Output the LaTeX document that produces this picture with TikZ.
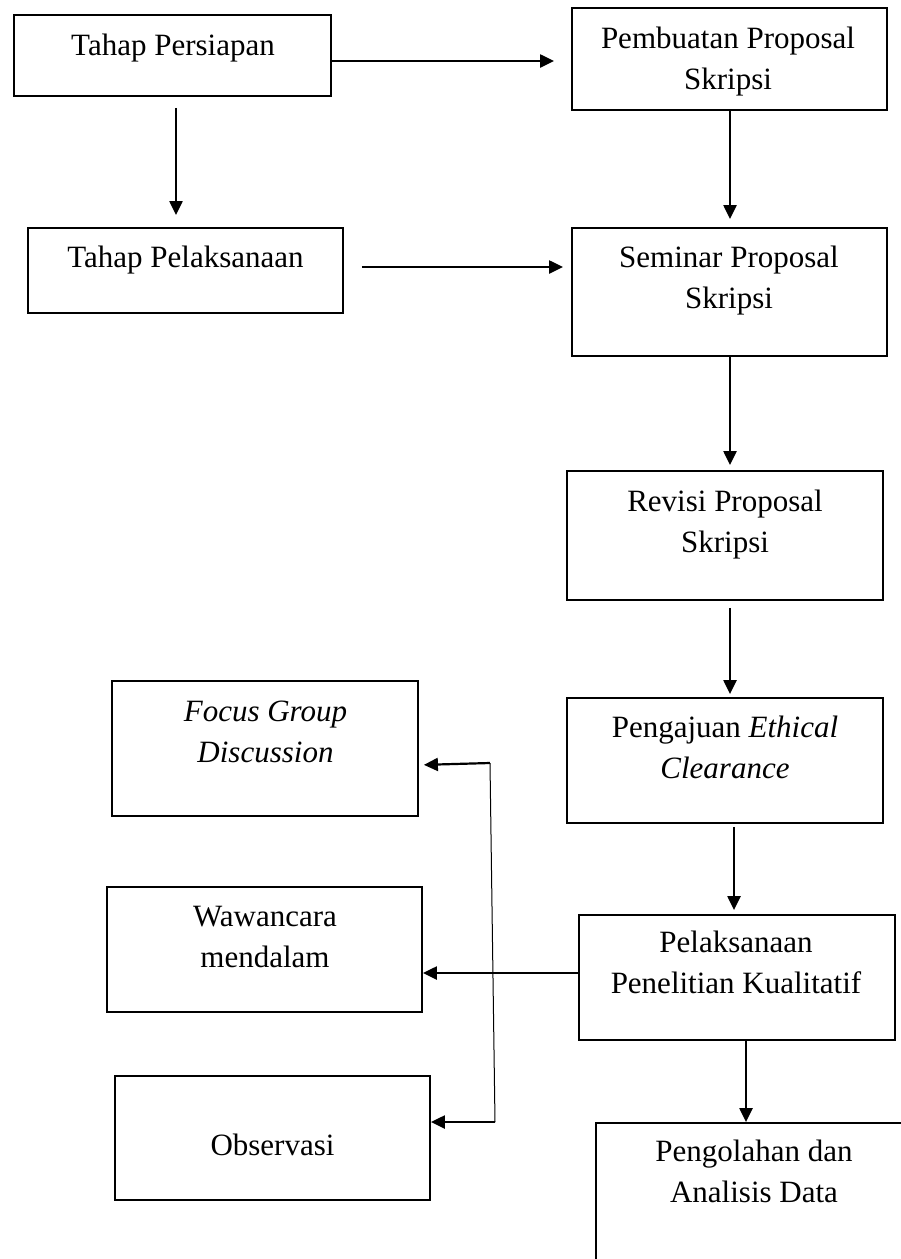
\documentclass[tikz,border=0pt]{standalone}
\usepackage{fontspec}
\setmainfont{Liberation Serif}
\usetikzlibrary{arrows.meta}
\begin{document}
\begin{tikzpicture}[x=1pt,y=-1pt,
  box/.style={draw,line width=1.8pt,inner sep=0pt},
  txt/.style={font=\fontsize{31}{41}\selectfont,align=center,anchor=base,inner sep=0pt},
  arr/.style={line width=2.2pt,-{Triangle[length=14pt,width=13pt]}},
  thin/.style={line width=1pt}]
\useasboundingbox (0,0) rectangle (901,1259);
\clip (0,0) rectangle (901,1259);
% boxes
\node[box,minimum width=317pt,minimum height=81pt] (persiapan) at (172.5,55.5) {};
\node[box,minimum width=315pt,minimum height=102pt] (pembuatan) at (729.5,59) {};
\node[box,minimum width=315pt,minimum height=85pt] (pelaksanaan) at (185.5,270.5) {};
\node[box,minimum width=315pt,minimum height=128pt] (seminar) at (729.5,292) {};
\node[box,minimum width=316pt,minimum height=129pt] (revisi) at (725,535.5) {};
\node[box,minimum width=306pt,minimum height=135pt] (fgd) at (265,748.5) {};
\node[box,minimum width=316pt,minimum height=125pt] (pengajuan) at (725,760.5) {};
\node[box,minimum width=315pt,minimum height=125pt] (wawancara) at (264.5,949.5) {};
\node[box,minimum width=316pt,minimum height=125pt] (penelitian) at (737,977.5) {};
\node[box,minimum width=315pt,minimum height=124pt] (observasi) at (272.5,1138) {};
\node[box,minimum width=400pt,minimum height=300pt] (pengolahan) at (796,1273) {};
% texts (base = baseline of the last line)
\node[txt] (tpersiapan) at (173,55) {Tahap Persiapan};
\node[txt] (tpembuatan) at (728,89) {Pembuatan Proposal\\Skripsi};
\node[txt] (tpelaksanaan) at (185.5,267) {Tahap Pelaksanaan};
\node[txt] (tseminar) at (729,308) {Seminar Proposal\\Skripsi};
\node[txt] (trevisi) at (725,552) {Revisi Proposal\\Skripsi};
\node[txt] (tfgd) at (265.5,762) {\itshape Focus Group\\\itshape Discussion};
\node[txt] (tpengajuan) at (725,778) {Pengajuan \textit{Ethical}\\\textit{Clearance}};
\node[txt] (twawancara) at (265,967) {Wawancara\\mendalam};
\node[txt] (tpenelitian) at (736,993) {Pelaksanaan\\Penelitian Kualitatif};
\node[txt] (tobservasi) at (272.5,1155) {Observasi};
\node[txt] (tpengolahan) at (754,1202) {Pengolahan dan\\Analisis Data};
% connectors
\draw[arr,shorten >=17pt] (persiapan.east |- 0,61) -- (pembuatan.west |- 0,61);
\draw[arr,shorten <=11pt,shorten >=12pt] ([xshift=3.5pt]persiapan.south) -- ([xshift=3.5pt]persiapan.south |- pelaksanaan.north);
\draw[arr,shorten >=8pt] ([xshift=0.5pt]pembuatan.south) -- ([xshift=0.5pt]pembuatan.south |- seminar.north);
\draw[arr,shorten <=18pt,shorten >=8pt] (pelaksanaan.east |- 0,267) -- (seminar.west |- 0,267);
\draw[arr,shorten >=5pt] ([xshift=0.5pt]seminar.south) -- ([xshift=0.5pt]seminar.south |- revisi.north);
\draw[arr,shorten <=7pt,shorten >=3pt] ([xshift=5pt]revisi.south) -- ([xshift=5pt]revisi.south |- pengajuan.north);
\draw[arr,shorten <=3pt,shorten >=4pt] ([xshift=9pt]pengajuan.south) -- ([xshift=9pt]pengajuan.south |- penelitian.north);
\draw[arr] ([xshift=9pt]penelitian.south) -- ([xshift=9pt]penelitian.south |- pengolahan.north);
\draw[arr] (penelitian.west |- 0,973) -- (wawancara.east |- 0,973);
\coordinate (btop) at (490,763);
\coordinate (bbot) at (495,1122);
\draw[thin] (btop) -- (bbot);
\draw[arr,shorten >=5pt] (btop) -- (fgd.east |- 0,765);
\draw[arr] (bbot) -- (observasi.east |- bbot);
\end{tikzpicture}
\end{document}
